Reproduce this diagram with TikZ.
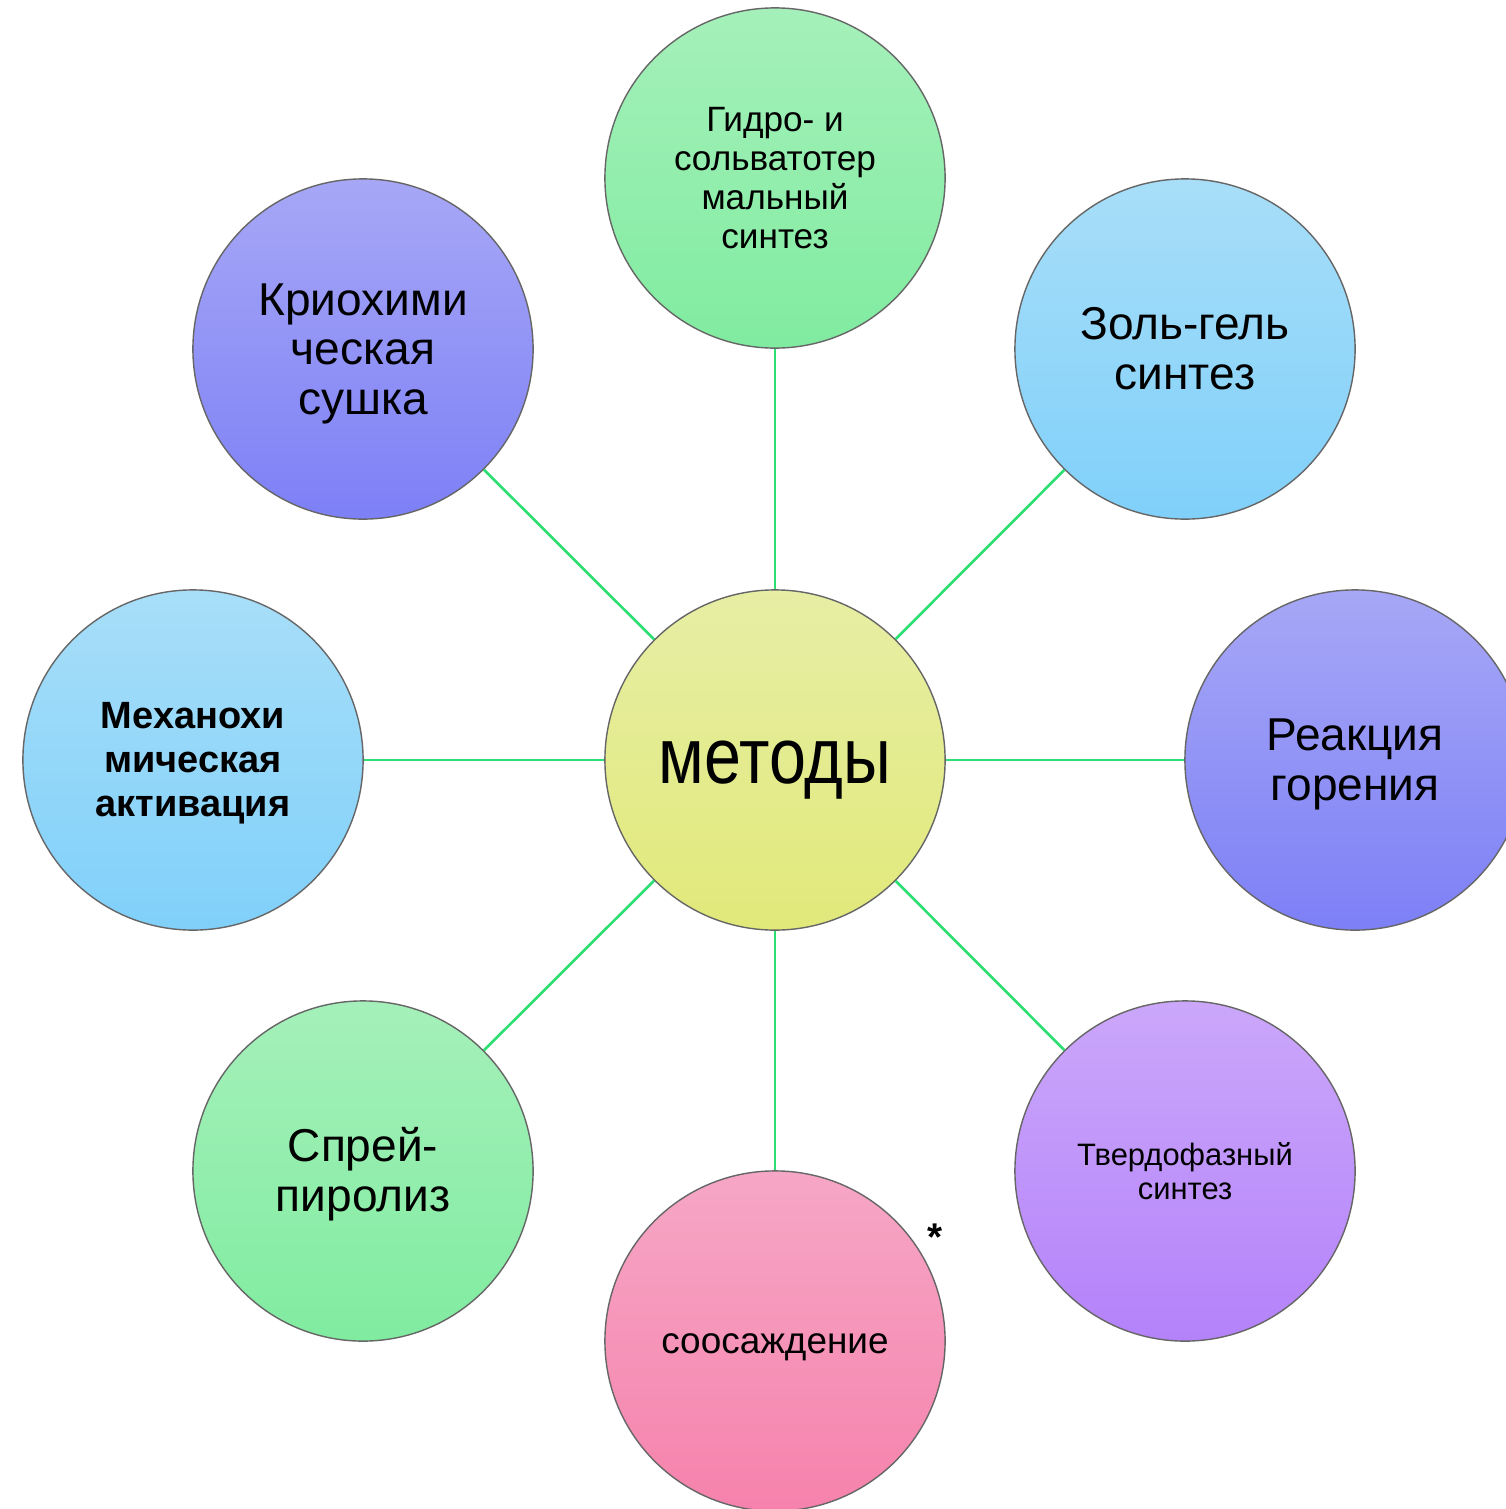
\documentclass[tikz,border=0pt]{standalone}
\usepackage{fontspec}
\setmainfont{Liberation Sans}
\usepackage{graphicx}
\definecolor{grnTop}{RGB}{165,240,186}
\definecolor{grnBot}{RGB}{128,236,160}
\definecolor{yelTop}{RGB}{231,238,165}
\definecolor{yelBot}{RGB}{225,233,122}
\definecolor{bluTop}{RGB}{168,222,248}
\definecolor{bluBot}{RGB}{128,208,250}
\definecolor{vioTop}{RGB}{167,167,246}
\definecolor{vioBot}{RGB}{125,128,246}
\definecolor{lilTop}{RGB}{203,167,250}
\definecolor{lilBot}{RGB}{180,130,250}
\definecolor{pnkTop}{RGB}{246,167,197}
\definecolor{pnkBot}{RGB}{246,130,172}
\definecolor{linkgrn}{RGB}{45,222,115}
% lower a line of text, keeping its box
\newcommand{\lowr}[2]{\raisebox{-#1}[\height][\depth]{#2}}
\begin{document}
\begin{tikzpicture}[x=0.01cm,y=-0.01cm]
        \useasboundingbox (0,0) rectangle (1506,1509);
        \clip (0,0) rectangle (1506,1509);
        \begin{scope}[every node/.style={circle,draw=black!60,line width=0.4pt,minimum size=3.4cm,inner sep=0pt,align=center}]
            \node[top color=yelTop,bottom color=yelBot,font=\fontsize{22.5}{25}\selectfont] (metody) at (775,760) {\lowr{2.9pt}{\scalebox{0.84}[1]{методы}}};
            \node[top color=grnTop,bottom color=grnBot,font=\fontsize{10}{11.1}\selectfont] (gidro) at (775,178) {Гидро- и\\сольватотер\\мальный\\синтез};
            \node[top color=bluTop,bottom color=bluBot,font=\fontsize{13.1}{14.3}\selectfont] (zolgel) at (1185,349) {Золь-гель\\синтез};
            \node[top color=vioTop,bottom color=vioBot,font=\fontsize{13.1}{14.3}\selectfont] (reakc) at (1355,760) {\lowr{1.3pt}{Реакция}\\\lowr{1.3pt}{горения}};
            \node[top color=lilTop,bottom color=lilBot,font=\fontsize{8.8}{9.7}\selectfont] (tverd) at (1185,1171) {Твердофазный\\синтез};
            \node[top color=pnkTop,bottom color=pnkBot,font=\fontsize{10.5}{12}\selectfont] (soosazh) at (775,1341) {\lowr{1.7pt}{соосаждение}};
            \node[top color=grnTop,bottom color=grnBot,font=\fontsize{13.1}{14.3}\selectfont] (sprei) at (363,1171) {\lowr{0.9pt}{Спрей-}\\\lowr{0.9pt}{пиролиз}};
            \node[top color=bluTop,bottom color=bluBot,font=\fontsize{10.8}{12.5}\selectfont\bfseries] (mehano) at (193,760) {\lowr{0.9pt}{Механохи}\\\lowr{0.9pt}{мическая}\\\lowr{0.9pt}{активация}};
            \node[top color=vioTop,bottom color=vioBot,font=\fontsize{13.1}{14.1}\selectfont] (krio) at (363,349) {\lowr{1.3pt}{Криохими}\\\lowr{1.3pt}{ческая}\\\lowr{1.3pt}{сушка}};
        \end{scope}
        \node[font=\fontsize{11}{12}\selectfont\bfseries,inner sep=0pt] (zvezda) at (935,1237) {*};
        \begin{scope}[every edge/.style={draw=linkgrn,line width=0.75pt}]
            \path (metody) edge (gidro);
            \path (metody) edge (zolgel);
            \path (metody) edge (reakc);
            \path (metody) edge (tverd);
            \path (metody) edge (soosazh);
            \path (metody) edge (sprei);
            \path (metody) edge (mehano);
            \path (metody) edge (krio);
        \end{scope}
    \end{tikzpicture}
\end{document}
